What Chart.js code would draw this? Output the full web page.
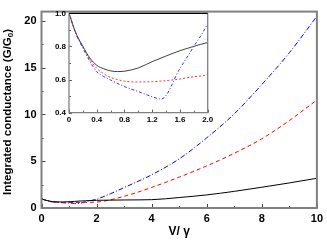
<!DOCTYPE html>
<html><head><meta charset="utf-8">
<script src="https://cdn.jsdelivr.net/npm/chart.js@4.4.1/dist/chart.umd.min.js"></script>
<style>
html,body{margin:0;padding:0;background:#fff;overflow:hidden}
#wrap{position:relative;width:327px;height:240px}
canvas{position:absolute;left:0;top:0}
#inset{pointer-events:none}
</style></head><body>
<div id="wrap"><canvas id="main" width="327" height="240"></canvas><canvas id="inset" width="327" height="240"></canvas></div>
<script>
// ---- data ----
const blackX = [0,0.1,0.2,0.3,0.4,0.5,0.6,0.7,0.8,1.0,1.2,1.4,1.6,1.8,2.0,3,4,5,6,7,8,9,10];
const blackY = [1.0,0.88,0.80,0.73,0.686,0.665,0.652,0.648,0.65,0.67,0.708,0.742,0.774,0.80,0.823,0.86,0.89,1.12,1.40,1.78,2.22,2.68,3.18];
const redX = [0,0.1,0.2,0.3,0.4,0.5,0.6,0.8,1.0,1.2,1.4,1.6,1.8,2.0,3,4,5,6,7,8,9,10];
const redY = [1.0,0.88,0.80,0.72,0.668,0.635,0.613,0.59,0.585,0.587,0.593,0.603,0.617,0.633,1.25,2.2,3.3,4.5,5.85,7.4,9.35,11.55];
const blueX = [0,0.1,0.2,0.3,0.4,0.5,0.6,0.8,1.0,1.2,1.33,1.6,1.8,2.0,2.5,3,4,5,6,7,8,9,10];
const blueY = [1.0,0.875,0.79,0.71,0.647,0.618,0.597,0.557,0.527,0.496,0.482,0.667,0.80,0.94,1.52,2.18,3.55,5.25,7.5,10.07,13.2,16.6,20.5];

const mainXTicks = [0,2,4,6,8,10];
const mainXMinor = [1,3,5,7,9];
const mainYTicks = [0,5,10,15,20];
const mainYMinor = [2.5,7.5,12.5,17.5];
const insetXTicks = [0,0.4,0.8,1.2,1.6,2.0];
const insetXMinor = [0.2,0.6,1.0,1.4,1.8];
const insetYTicks = [0.4,0.6,0.8,1.0];
const insetYMinor = [0.5,0.7,0.9];

const FONT = '"Liberation Sans", Arial, Helvetica, sans-serif';
const pts = (xs, ys) => xs.map((x, i) => ({x, y: ys[i]}));

function tickPlugin(o){
  return {
    id: 'inTicks',
    afterDatasetsDraw(chart){
      const {ctx, chartArea:a, scales:{x, y}} = chart;
      ctx.save();
      ctx.strokeStyle = o.color; ctx.lineWidth = 1;
      const seg = (x1,y1,x2,y2)=>{ctx.beginPath();ctx.moveTo(x1,y1);ctx.lineTo(x2,y2);ctx.stroke();};
      o.xMajor.forEach(v=>{const p=Math.round(x.getPixelForValue(v))+0.5; seg(p,a.bottom,p,a.bottom-o.major);});
      o.xMinor.forEach(v=>{const p=Math.round(x.getPixelForValue(v))+0.5; seg(p,a.bottom,p,a.bottom-o.minor);});
      o.yMajor.forEach(v=>{const p=Math.round(y.getPixelForValue(v))+0.5; seg(a.left,p,a.left+o.major,p);});
      o.yMinor.forEach(v=>{const p=Math.round(y.getPixelForValue(v))+0.5; seg(a.left,p,a.left+o.minor,p);});
      ctx.restore();
    }
  };
}

// ---- main chart ----
const mainDecor = {
  id: 'mainDecor',
  afterDraw(chart){
    const {ctx, chartArea:a} = chart;
    ctx.save();
    ctx.strokeStyle = '#808080'; ctx.lineWidth = 2;
    ctx.strokeRect(a.left, a.top, a.right-a.left, a.bottom-a.top);
    ctx.fillStyle = '#000';
    ctx.font = 'bold 12px ' + FONT;
    ctx.textAlign = 'center'; ctx.textBaseline = 'middle';
    ctx.fillText('V/ \u03b3', (a.left+a.right)/2, 232);
    // rotated y title with subscript
    ctx.translate(8, 112); ctx.rotate(-Math.PI/2);
    const p1 = 'Integrated conductance (G/G', sub = '0', p3 = ')';
    const fMain = 'bold 11.5px ' + FONT, fSub = 'bold 8px ' + FONT;
    ctx.font = fMain; const w1 = ctx.measureText(p1).width, w3 = ctx.measureText(p3).width;
    ctx.font = fSub; const w2 = ctx.measureText(sub).width;
    let sx = -(w1+w2+w3)/2;
    ctx.textAlign = 'left';
    ctx.font = fMain; ctx.fillText(p1, sx, 0); sx += w1;
    ctx.font = fSub; ctx.fillText(sub, sx, 3); sx += w2;
    ctx.font = fMain; ctx.fillText(p3, sx, 0);
    ctx.restore();
  }
};

new Chart(document.getElementById('main'), {
  type: 'line',
  data: { datasets: [
    {data: pts(blackX, blackY), borderColor:'#000', borderWidth:1, pointRadius:0, cubicInterpolationMode:'monotone'},
    {data: pts(redX, redY), borderColor:'#ff0000', borderWidth:1, borderDash:[4,3], pointRadius:0, cubicInterpolationMode:'monotone'},
    {data: pts(blueX, blueY), borderColor:'#0000ff', borderWidth:1, borderDash:[5,2,1,2], pointRadius:0, cubicInterpolationMode:'monotone'}
  ]},
  options: {
    responsive:false, animation:false, devicePixelRatio:1,
    layout:{padding:{left:0, top:1, right:6.5, bottom:0}},
    plugins:{legend:{display:false}, tooltip:{enabled:false}},
    scales:{
      x:{type:'linear', min:0, max:10,
        afterBuildTicks:s=>{s.ticks = mainXTicks.map(v=>({value:v}));},
        afterFit:s=>{s.height = 32;},
        grid:{display:false, drawTicks:false}, border:{display:false},
        ticks:{padding:4, color:'#000', font:{family:FONT, size:11, weight:'bold'}, maxRotation:0, callback:v=>String(v)}
      },
      y:{type:'linear', min:0, max:21,
        afterBuildTicks:s=>{s.ticks = mainYTicks.map(v=>({value:v}));},
        afterFit:s=>{s.width = 41.5;},
        grid:{display:false, drawTicks:false}, border:{display:false},
        ticks:{padding:5, color:'#000', font:{family:FONT, size:11, weight:'bold'}, callback:v=>String(v)}
      }
    }
  },
  plugins:[tickPlugin({color:'#404040', major:4, minor:2, xMajor:mainXTicks, xMinor:mainXMinor, yMajor:mainYTicks, yMinor:mainYMinor}), mainDecor]
});

// ---- inset chart ----
const insetDecor = {
  id: 'insetDecor',
  beforeDraw(chart){
    const {ctx, chartArea:a} = chart;
    ctx.save(); ctx.fillStyle = '#fff';
    ctx.fillRect(a.left, a.top, a.right-a.left, a.bottom-a.top);
    ctx.restore();
  },
  afterDraw(chart){
    const {ctx, chartArea:a} = chart;
    ctx.save();
    ctx.strokeStyle = '#808080'; ctx.lineWidth = 1.3;
    ctx.beginPath();
    ctx.moveTo(a.left, a.top); ctx.lineTo(a.left, a.bottom); ctx.lineTo(a.right, a.bottom); ctx.lineTo(a.right, a.top);
    ctx.stroke();
    ctx.strokeStyle = '#000'; ctx.lineWidth = 1.2;
    ctx.beginPath(); ctx.moveTo(a.left, a.top); ctx.lineTo(a.right, a.top); ctx.stroke();
    ctx.restore();
  }
};

const fmt1 = v => (v === 0 ? '0' : Number(v).toFixed(1));
new Chart(document.getElementById('inset'), {
  type: 'line',
  data: { datasets: [
    {data: pts(blackX, blackY), borderColor:'#404040', borderWidth:1, pointRadius:0, cubicInterpolationMode:'monotone'},
    {data: pts(redX, redY), borderColor:'#ff3030', borderWidth:1, borderDash:[2,2], pointRadius:0, cubicInterpolationMode:'monotone'},
    {data: pts(blueX, blueY), borderColor:'#3030ff', borderWidth:1, borderDash:[3,2,1,2], pointRadius:0, cubicInterpolationMode:'monotone'}
  ]},
  options: {
    responsive:false, animation:false, devicePixelRatio:1,
    layout:{padding:{left:49, top:13.3, right:119.3, bottom:115.4}},
    plugins:{legend:{display:false}, tooltip:{enabled:false}},
    scales:{
      x:{type:'linear', min:0, max:2,
        afterBuildTicks:s=>{s.ticks = insetXTicks.map(v=>({value:v}));},
        afterFit:s=>{s.height = 12;},
        grid:{display:false, drawTicks:false}, border:{display:false},
        ticks:{padding:2, color:'#000', font:{family:FONT, size:8, weight:'bold'}, maxRotation:0, callback:fmt1}
      },
      y:{type:'linear', min:0.4, max:1.0,
        afterBuildTicks:s=>{s.ticks = insetYTicks.map(v=>({value:v}));},
        afterFit:s=>{s.width = 20;},
        grid:{display:false, drawTicks:false}, border:{display:false},
        ticks:{padding:3, color:'#000', font:{family:FONT, size:8, weight:'bold'}, callback:fmt1}
      }
    }
  },
  plugins:[insetDecor, tickPlugin({color:'#606060', major:3, minor:2, xMajor:insetXTicks, xMinor:insetXMinor, yMajor:insetYTicks, yMinor:insetYMinor})]
});
</script>
</body></html>
